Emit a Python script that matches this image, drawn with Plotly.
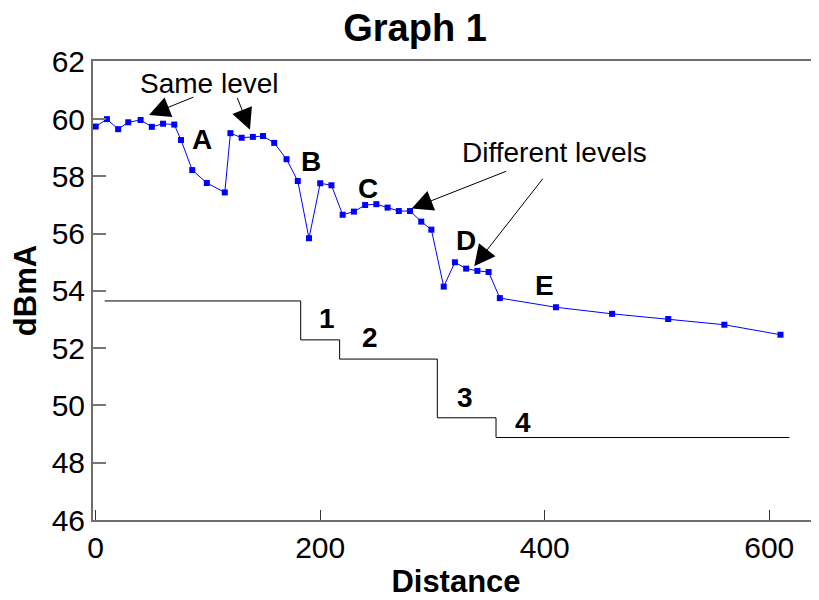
import plotly.graph_objects as go

# Measured signal (blue) along the run
distance = [0, 10, 20, 29, 40, 50, 60, 70, 76, 86, 99, 115, 120, 130, 140, 149, 159,
            170, 180, 190, 200, 210, 220, 230, 240, 250, 260, 270, 280, 290, 299,
            310, 320, 330, 340, 350, 360, 410, 460, 510, 560, 610]
level = [59.74, 60.0, 59.65, 59.89, 59.97, 59.73, 59.84, 59.81, 59.27, 58.22, 57.77,
         57.44, 59.51, 59.35, 59.38, 59.41, 59.17, 58.6, 57.84, 55.84, 57.76, 57.69,
         56.66, 56.77, 57.0, 57.03, 56.91, 56.79, 56.79, 56.42, 56.14, 54.15, 55.0,
         54.78, 54.7, 54.66, 53.75, 53.43, 53.2, 53.02, 52.82, 52.47]

# Stepped reference levels (black)
step_x = [8, 182.6, 217.3, 304.3, 356.6, 618]
step_y = [53.65, 52.29, 51.62, 49.57, 48.88, 48.88]

# Labels on the curve
seg_labels = ["A", "B", "C", "D", "E"]
seg_x = [94.5, 191.5, 242.3, 329.6, 400.2]
seg_y = [59.3, 58.51, 57.58, 55.75, 54.18]

step_labels = ["1", "2", "3", "4"]
step_lx = [206.3, 244.3, 328.9, 380.3]
step_ly = [53.05, 52.38, 50.29, 49.4]

FONT = "Liberation Sans, Arial, sans-serif"

# the page body has an 8px margin, so the figure is drawn 8px smaller
W, H = 811, 592

fig = go.Figure()

fig.add_trace(go.Scatter(
    x=step_x, y=step_y, mode="lines", line_shape="hv",
    line=dict(color="black", width=1), showlegend=False, hoverinfo="skip",
))

fig.add_trace(go.Scatter(
    x=distance, y=level, mode="lines+markers",
    line=dict(color="#0000ff", width=1),
    marker=dict(symbol="square", size=6, color="#0000ff"),
    showlegend=False,
))

annotations = []
for t, x, y in zip(seg_labels, seg_x, seg_y):
    annotations.append(dict(x=x, y=y, text="<b>%s</b>" % t, showarrow=False,
                            font=dict(size=28, color="black", family=FONT)))
for t, x, y in zip(step_labels, step_lx, step_ly):
    annotations.append(dict(x=x, y=y, text="<b>%s</b>" % t, showarrow=False,
                            font=dict(size=28, color="black", family=FONT)))

annotations.append(dict(x=101.8, y=61.25, text="Same level", showarrow=False,
                        font=dict(size=28, color="black", family=FONT)))
annotations.append(dict(x=409.1, y=58.84, text="Different levels", showarrow=False,
                        font=dict(size=28, color="black", family=FONT)))

# arrows: (tail x, tail y, tip x, tip y)
arrows = [
    (88.4, 60.79, 47.5, 60.14),
    (125.6, 60.79, 137.4, 59.63),
    (367.0, 58.2, 281.5, 56.88),
    (399.3, 57.97, 337.2, 54.86),
]
for ax, ay, x, y in arrows:
    annotations.append(dict(
        x=x, y=y, ax=ax, ay=ay, axref="x", ayref="y", text="",
        showarrow=True, arrowhead=2, arrowsize=4.2, arrowwidth=1, arrowcolor="black",
    ))

fig.update_layout(
    width=W, height=H,
    margin=dict(l=85, r=0, t=53, b=80, autoexpand=False),
    paper_bgcolor="white", plot_bgcolor="white",
    font=dict(family=FONT, color="black"),
    title=dict(text="<b>Graph 1</b>", x=407 / W, xanchor="center",
               y=1 - 20 / H, yanchor="middle", automargin=False,
               font=dict(size=38, family=FONT, color="black")),
    annotations=annotations,
    xaxis=dict(
        range=[-2.4, 644.3], tickvals=[0, 200, 400, 600], automargin=False,
        ticks="inside", ticklen=10, tickcolor="#333", tickwidth=1,
        showline=True, linecolor="#6e6e6e", linewidth=2, mirror=True,
        showgrid=False, zeroline=False,
        tickfont=dict(size=30, family=FONT),
        title=dict(text="<b>Distance</b>", font=dict(size=31, family=FONT), standoff=2),
    ),
    yaxis=dict(
        range=[46, 62.03], tickvals=list(range(46, 63, 2)), automargin=False,
        ticks="inside", ticklen=13, tickcolor="#777", tickwidth=2,
        showline=True, linecolor="#6e6e6e", linewidth=2,
        showgrid=False, zeroline=False,
        tickfont=dict(size=30, family=FONT),
        title=dict(text="<b>dBmA</b>", font=dict(size=31, family=FONT), standoff=6),
    ),
)

fig.write_html("out.html")
